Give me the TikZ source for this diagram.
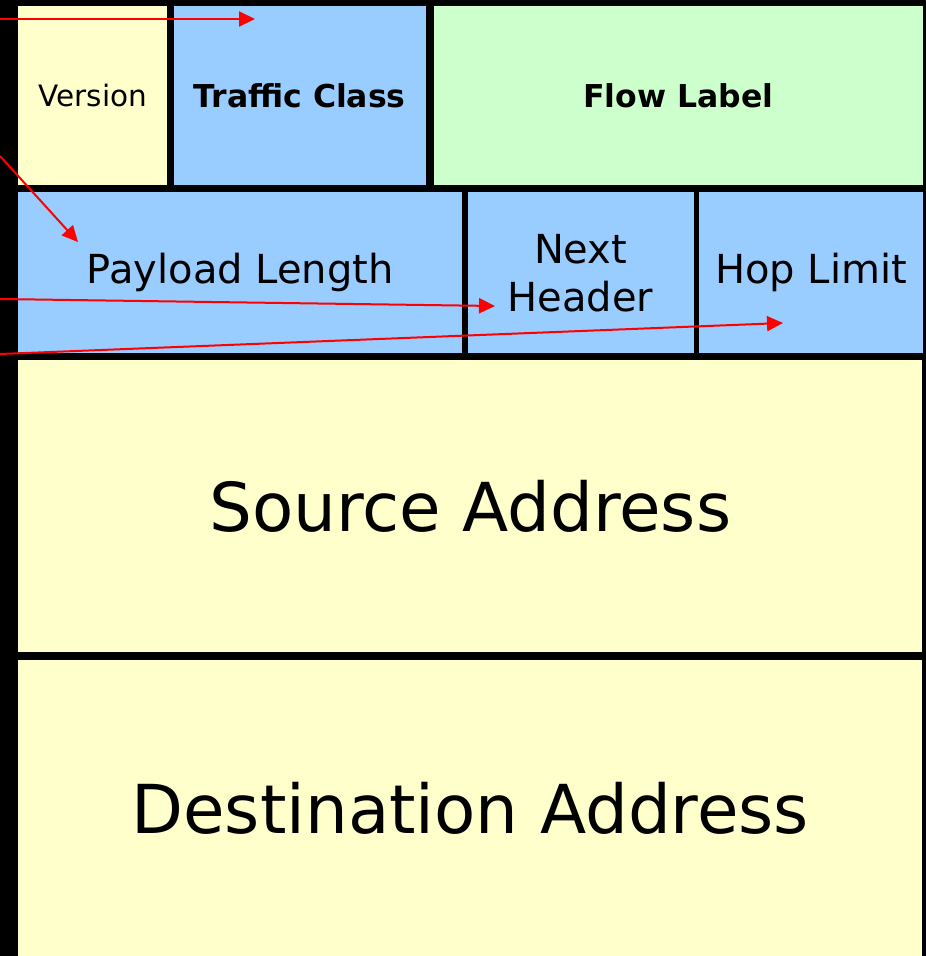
\documentclass[tikz,border=0pt]{standalone}
\usepackage{xcolor}
\usepackage{fontspec}
\setmainfont{DejaVu Sans}
\usetikzlibrary{arrows.meta, positioning}
\definecolor{hdryellow}{HTML}{FFFFCC}
\definecolor{hdrblue}{HTML}{99CCFF}
\definecolor{hdrgreen}{HTML}{CCFFCC}

\begin{document}
\begin{tikzpicture}[x=1pt, y=-1pt]
        % --- styles ---
        \tikzstyle{field} = [
            rectangle,
            inner sep=0pt,
            anchor=north west,
            align=center
        ]
        \tikzstyle{small} = [font=\fontsize{29.5}{34}\selectfont]
        \tikzstyle{smallbold} = [font=\fontsize{31.5}{36}\selectfont\bfseries]
        \tikzstyle{medium} = [font=\fontsize{40}{48}\selectfont]
        \tikzstyle{large} = [font=\fontsize{67.5}{78}\selectfont]
        \tikzstyle{arrow} = [red, line width=2pt, -{Triangle[length=16pt, width=15pt]}]

        % --- background ---
        \fill[black] (0,0) rectangle (926,956);
        \useasboundingbox (0,0) rectangle (926,956);

        % --- fields (rows) ---
        \node (version) [field, fill=hdryellow, minimum width=149pt, minimum height=179pt, small] at (18,6) {Version};
        \node (traffic) [field, fill=hdrblue, minimum width=252pt, minimum height=179pt, smallbold, right=6pt of version] {Traffic Class};
        \node (flow) [field, fill=hdrgreen, minimum width=489pt, minimum height=179pt, smallbold, right=8pt of traffic] {Flow Label};

        \node (payload) [field, fill=hdrblue, minimum width=444pt, minimum height=161pt, medium] at (18,192) {Payload Length};
        \node (next) [field, fill=hdrblue, minimum width=226pt, minimum height=161pt, medium, right=5pt of payload] {Next\\Header};
        \node (hop) [field, fill=hdrblue, minimum width=224pt, minimum height=161pt, medium, right=5pt of next] {Hop Limit};

        \node (source) [field, fill=hdryellow, minimum width=904pt, minimum height=292pt, large] at (18,360) {Source Address};
        \node (dest) [field, fill=hdryellow, minimum width=904pt, minimum height=296pt, large] at (18,660) {Destination Address};

        % --- arrows ---
        \coordinate (in1) at (0,19);
        \coordinate (in2) at (0,156);
        \coordinate (in3) at (0,299);
        \coordinate (in4) at (0,354);
        \coordinate (tip1) at (255,19);
        \coordinate (tip2) at (78,242);
        \coordinate (tip3) at (495,306);
        \coordinate (tip4) at (783,323);
        \draw [arrow] (in1) -- (tip1);
        \draw [arrow] (in2) -- (tip2);
        \draw [arrow] (in3) -- (tip3);
        \draw [arrow] (in4) -- (tip4);
    \end{tikzpicture}
\end{document}
